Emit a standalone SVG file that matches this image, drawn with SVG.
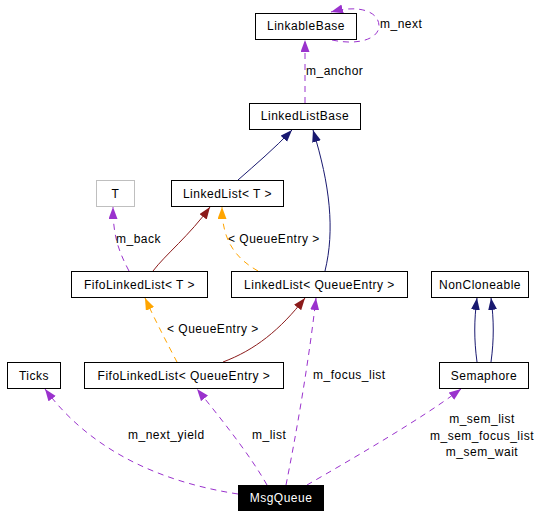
<svg xmlns="http://www.w3.org/2000/svg" width="544" height="517" viewBox="0 0 544 517">
<style>
text{font-family:"Liberation Sans",Arial,Helvetica,sans-serif;font-size:12px;letter-spacing:0.5px;fill:#000}
.c{text-anchor:middle}
.n rect{fill:#fff;stroke:#000;stroke-width:1}
.g rect{stroke:#bfbfbf}
.b rect{fill:#000}
.b text{fill:#fff}
.e{fill:none;stroke-width:1}
.use{stroke:#9a32cd;stroke-dasharray:6,5}
.pub{stroke:#191970}
.priv{stroke:#8b1a1a}
.tmpl{stroke:#ffa500;stroke-dasharray:6,5}
</style>
<defs>
<marker id="aU" markerUnits="userSpaceOnUse" markerWidth="13" markerHeight="10" refX="12" refY="4.5" orient="auto"><path d="M0,0 L12,4.5 L0,9 z" fill="#9a32cd"/></marker>
<marker id="aP" markerUnits="userSpaceOnUse" markerWidth="13" markerHeight="10" refX="12" refY="4.5" orient="auto"><path d="M0,0 L12,4.5 L0,9 z" fill="#191970"/></marker>
<marker id="aR" markerUnits="userSpaceOnUse" markerWidth="13" markerHeight="10" refX="12" refY="4.5" orient="auto"><path d="M0,0 L12,4.5 L0,9 z" fill="#8b1a1a"/></marker>
<marker id="aT" markerUnits="userSpaceOnUse" markerWidth="13" markerHeight="10" refX="12" refY="4.5" orient="auto"><path d="M0,0 L12,4.5 L0,9 z" fill="#ffa500"/></marker>
</defs>
<g id="connectors">
<path class="e use" d="M332,40 C360,46 379,38 379,26 C379,12 360,4 331,12" marker-end="url(#aU)"/>
<text x="380" y="28">m_next</text>
<path class="e use" d="M305,103 L305,40" marker-end="url(#aU)"/>
<text x="306" y="75">m_anchor</text>
<path class="e pub" d="M238,180 C255,165 275,148 292,130" marker-end="url(#aP)"/>
<path class="e pub" d="M325,271 C335,230 330,185 313,130" marker-end="url(#aP)"/>
<path class="e use" d="M129,271 C118,250 113,235 113,207" marker-end="url(#aU)"/>
<text x="116" y="243">m_back</text>
<path class="e priv" d="M153,271 C165,255 190,235 210,207" marker-end="url(#aR)"/>
<path class="e tmpl" d="M258,271 C235,258 222,240 222,207" marker-end="url(#aT)"/>
<text x="228" y="243">&lt; QueueEntry &gt;</text>
<path class="e tmpl" d="M177,362 C168,345 155,320 145,298" marker-end="url(#aT)"/>
<text x="167" y="333">&lt; QueueEntry &gt;</text>
<path class="e priv" d="M223,362 C255,350 280,330 305,298" marker-end="url(#aR)"/>
<path class="e pub" d="M477,362 C474,340 474,320 477,298" marker-end="url(#aP)"/>
<path class="e pub" d="M491,362 C494,340 494,320 491,298" marker-end="url(#aP)"/>
<path class="e use" d="M238,494 C160,482 90,450 45,389" marker-end="url(#aU)"/>
<text x="128" y="439">m_next_yield</text>
<path class="e use" d="M267,485 C250,455 222,420 197,389" marker-end="url(#aU)"/>
<text x="252" y="439">m_list</text>
<path class="e use" d="M286,485 C297,430 309,360 316,298" marker-end="url(#aU)"/>
<text x="313" y="379">m_focus_list</text>
<path class="e use" d="M307,485 C350,460 420,420 461,389" marker-end="url(#aU)"/>
<text class="c" x="482" y="423">m_sem_list</text>
<text class="c" x="482" y="440">m_sem_focus_list</text>
<text class="c" x="482" y="456">m_sem_wait</text>
</g>
<g id="LinkableBase" class="n"><rect x="255.5" y="13.5" width="101" height="26"/><text class="c" x="306" y="30">LinkableBase</text></g>
<g id="LinkedListBase" class="n"><rect x="249.5" y="103.5" width="111" height="26"/><text class="c" x="305" y="120">LinkedListBase</text></g>
<g id="T" class="n g"><rect x="96.5" y="180.5" width="38" height="26"/><text class="c" x="115.5" y="197.5">T</text></g>
<g id="LinkedListT" class="n"><rect x="171.5" y="180.5" width="112" height="26"/><text class="c" x="227.5" y="197.5">LinkedList&lt; T &gt;</text></g>
<g id="FifoLinkedListT" class="n"><rect x="71.5" y="271.5" width="136" height="26"/><text class="c" x="139.5" y="288.5">FifoLinkedList&lt; T &gt;</text></g>
<g id="LinkedListQueueEntry" class="n"><rect x="231.5" y="271.5" width="176" height="26"/><text class="c" x="319.5" y="288.5">LinkedList&lt; QueueEntry &gt;</text></g>
<g id="NonCloneable" class="n"><rect x="431.5" y="271.5" width="97" height="26"/><text class="c" x="480" y="288.5">NonCloneable</text></g>
<g id="Ticks" class="n"><rect x="7.5" y="362.5" width="53" height="26"/><text class="c" x="34" y="379.5">Ticks</text></g>
<g id="FifoLinkedListQueueEntry" class="n"><rect x="84.5" y="362.5" width="199" height="26"/><text class="c" x="184" y="379.5">FifoLinkedList&lt; QueueEntry &gt;</text></g>
<g id="Semaphore" class="n"><rect x="439.5" y="362.5" width="89" height="26"/><text class="c" x="484" y="379.5">Semaphore</text></g>
<g id="MsgQueue" class="n b"><rect x="238.5" y="485.5" width="85" height="25"/><text class="c" x="281" y="502">MsgQueue</text></g>
</svg>
